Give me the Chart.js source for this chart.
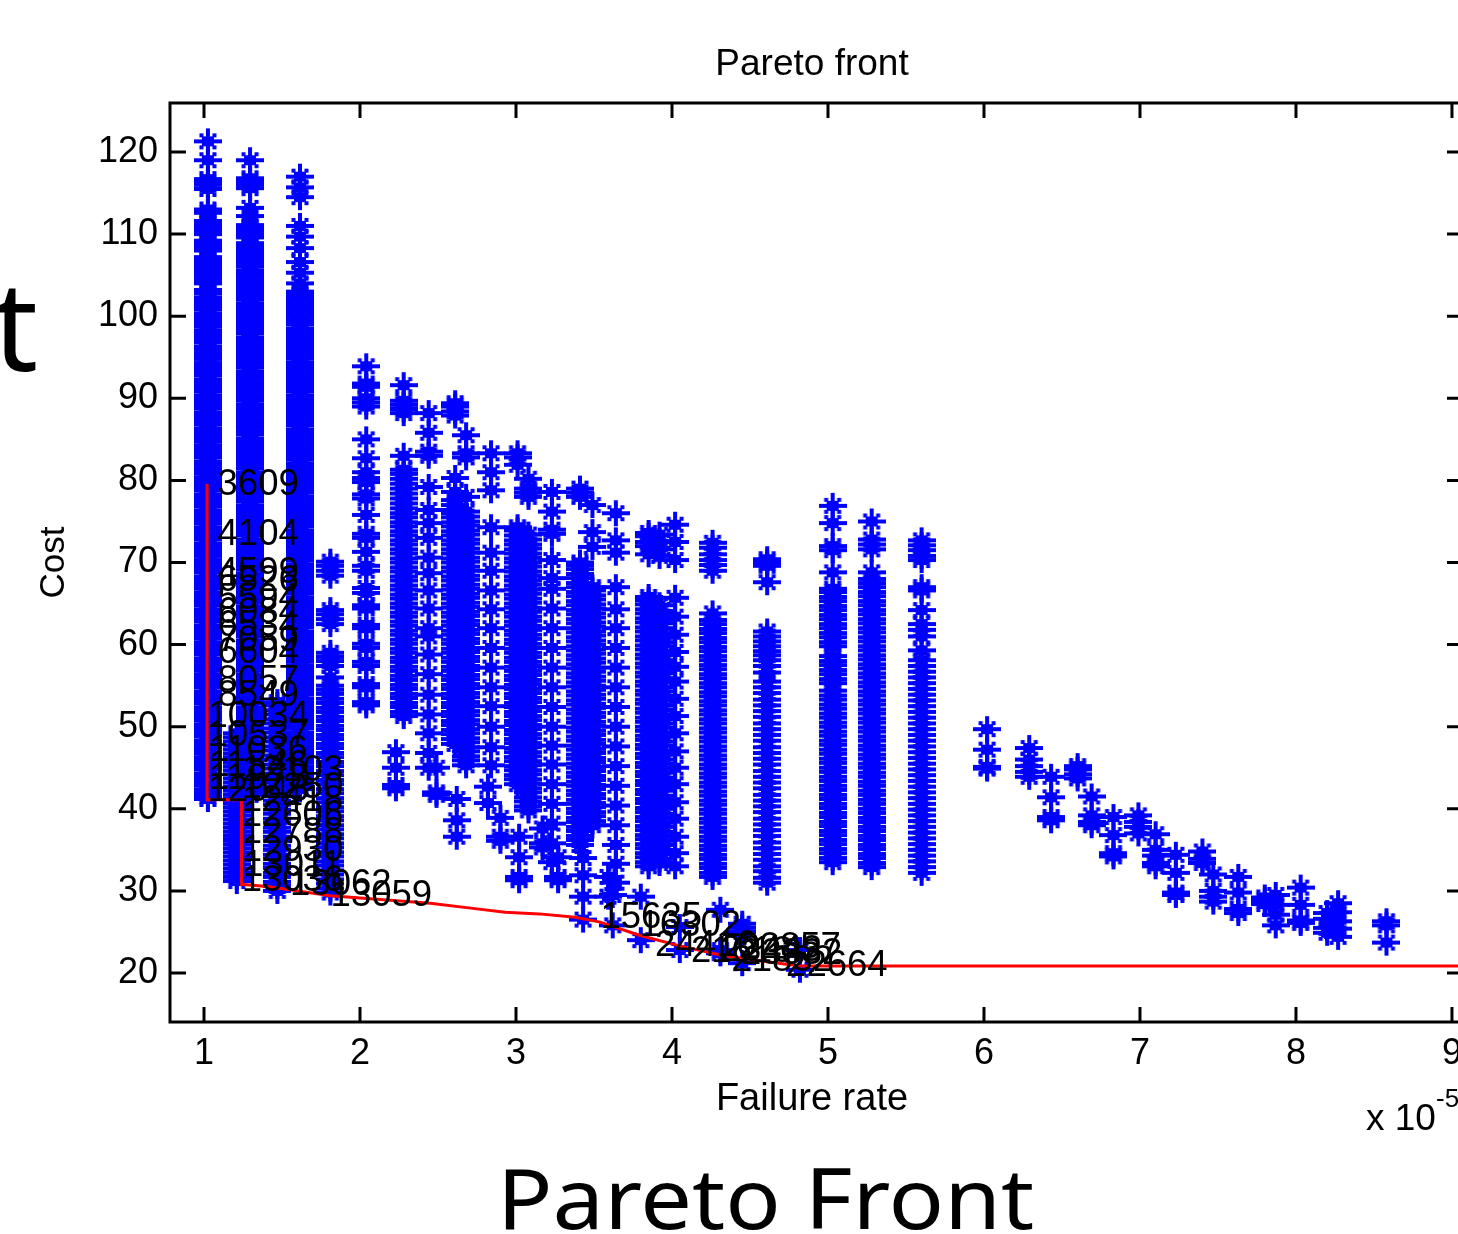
<!DOCTYPE html>
<html>
<head>
<meta charset="utf-8">
<title>Pareto front</title>
<script src="https://cdn.jsdelivr.net/npm/chart.js@4"></script>
<style>
  html, body { margin: 0; background: #fff; overflow: hidden; }
  #page { position: relative; width: 1458px; height: 1234px; overflow: hidden; }
  #myChart { position: absolute; left: 0; top: 0; }
  .slideText { position: absolute; font-family: "Noto Sans", sans-serif; color: #000; line-height: 1; white-space: nowrap; transform-origin: left top; }
</style>
</head>
<body>
<div id="page">
  <canvas id="myChart" width="1458" height="1234"></canvas>
  <div class="slideText" style="left:-7px;top:260px;font-size:125px">t</div>
  <div class="slideText" style="left:497px;top:1155px;font-size:84px;transform:scaleX(1.094)">Pareto Front</div>
</div>
<script>
const xTicks = [1, 2, 3, 4, 5, 6, 7, 8, 9];
const yTicks = [20, 30, 40, 50, 60, 70, 80, 90, 100, 110, 120];

// failure rate of each vertical column of points (x 10^-5)
const failureRate = [1.025, 1.295, 1.615, 1.21, 1.47, 1.81, 2.04, 2.28, 2.44, 2.49, 2.23, 2.61, 2.68, 2.84, 2.82, 2.62, 2.9, 3.01, 3.08, 3.02, 3.23, 3.17, 3.27, 3.41, 3.49, 3.43, 3.64, 3.59, 3.62, 3.85, 3.92, 3.8, 4.02, 4.26, 4.05, 4.31, 4.61, 5.03, 5.28, 5.6, 6.02, 6.29, 6.43, 6.6, 6.69, 6.83, 6.99, 7.1, 7.23, 7.4, 7.47, 7.63, 7.8, 7.87, 8.03, 8.2, 8.27, 8.58, 4.45, 4.82];

const costs = [
  [41.2,41.5,41.9,42.3,42.8,43.1,43.5,43.9,44.3,44.8,45.1,45.5,45.9,46.3,46.8,47.1,47.5,47.9,48.3,48.8,49.1,49.5,49.9,50.3,50.8,51.1,51.5,51.9,52.3,52.8,53.1,53.5,53.9,54.3,54.8,55.1,55.5,55.9,56.3,56.8,57.1,57.5,57.9,58.3,58.8,59.1,59.5,59.9,60.3,60.8,61.1,61.5,61.9,62.3,62.8,63.1,63.5,63.9,64.3,64.8,65.1,65.5,65.9,66.3,66.8,67.1,67.5,67.9,68.3,68.8,69.1,69.5,69.9,70.3,70.8,71.1,71.5,71.9,72.3,72.8,73.1,73.5,73.9,74.3,74.8,75.1,75.5,75.9,76.3,76.8,77.1,77.5,77.9,78.3,78.8,79.1,79.5,79.9,80.3,80.8,81.1,81.5,81.9,82.3,82.8,83.1,83.5,83.9,84.3,84.8,85.1,85.5,85.9,86.3,86.8,87.1,87.5,87.9,88.3,88.8,89.1,89.5,89.9,90.3,90.8,91.1,91.5,91.9,92.3,92.8,93.1,93.5,93.9,94.3,94.8,95.1,95.5,95.9,96.3,96.8,97.1,97.5,97.9,98.3,98.8,99.1,99.5,99.9,100.3,100.8,101.1,101.5,101.9,102.3,102.8,103.2,104,104.4,104.8,105.2,105.6,106,106.4,106.8,107.2,108,108.4,108.8,109.2,110,110.4,110.8,111.2,111.6,112.6,113,115.5,116,116.3,116.7,119,121.3],
  [41.7,42.1,42.5,42.9,43.3,43.7,44.1,44.6,45,45.4,45.8,46.2,46.6,47,47.4,47.8,48.2,48.7,49.1,49.5,49.9,50.3,50.7,51.1,51.5,51.9,52.3,52.8,53.2,53.6,54,54.4,54.8,55.2,55.6,56,56.4,56.9,57.3,57.7,58.1,58.5,58.9,59.3,59.7,60.1,60.5,61,61.4,61.8,62.2,62.6,63,63.4,63.8,64.2,64.6,65.1,65.5,65.9,66.3,66.7,67.1,67.5,67.9,68.3,68.7,69.2,69.6,70,70.4,70.8,71.2,71.6,72,72.4,72.8,73.3,73.7,74.1,74.5,74.9,75.3,75.7,76.1,76.5,76.9,77.4,77.8,78.2,78.6,79,79.4,79.8,80.2,80.6,81,81.5,81.9,82.3,82.7,83.1,83.5,83.9,84.3,84.7,85.1,85.6,86,86.4,86.8,87.2,87.6,88,88.4,88.8,89.2,89.7,90.1,90.5,90.9,91.3,91.7,92.1,92.5,92.9,93.3,93.8,94.2,94.6,95,95.4,95.8,96.2,96.6,97,97.4,97.9,98.3,98.7,99.1,99.5,99.9,100.3,100.7,101.1,101.5,102,102.4,102.8,103.2,103.6,104,104.4,104.8,105.2,105.6,106.1,106.5,106.9,107.3,107.7,108.1,108.5,108.9,109.6,110,110.4,110.8,111.1,112.2,113.2,115.6,116,116.4,116.8,119],
  [42.4,42.8,43.2,43.6,44,44.4,44.8,45.2,45.7,46.1,46.5,46.9,47.3,47.7,48.1,48.5,48.9,49.3,49.8,50.2,50.6,51,51.4,51.8,52.2,52.6,53,53.4,53.9,54.3,54.7,55.1,55.5,55.9,56.3,56.7,57.1,57.5,58,58.4,58.8,59.2,59.6,60,60.4,60.8,61.2,61.6,62.1,62.5,62.9,63.3,63.7,64.1,64.5,64.9,65.3,65.7,66.2,66.6,67,67.4,67.8,68.2,68.6,69,69.4,69.8,70.3,70.7,71.1,71.5,71.9,72.3,72.7,73.1,73.5,73.9,74.4,74.8,75.2,75.6,76,76.4,76.8,77.2,77.6,78,78.5,78.9,79.3,79.7,80.1,80.5,80.9,81.3,81.7,82.1,82.6,83,83.4,83.8,84.2,84.6,85,85.4,85.8,86.2,86.7,87.1,87.5,87.9,88.3,88.7,89.1,89.5,89.9,90.3,90.8,91.2,91.6,92,92.4,92.8,93.2,93.6,94,94.4,94.9,95.3,95.7,96.1,96.5,96.9,97.3,97.7,98.1,98.5,99,99.4,99.8,100.2,100.6,101,101.4,101.8,102.2,102.6,103,104,105.3,106.6,108.3,109.7,111,114.5,115.7,117],
  [31.2,31.7,32.2,32.7,33.2,33.7,34.2,34.7,35.2,35.7,36.2,36.7,37.2,37.7,38.2,38.7,39.2,39.7,40.2,40.7,41.2,41.7,42.2,42.7,43.2,43.7,44.2,44.7,45.2,45.7,46.2,46.7,47.2,47.7,48.2,48.7,49.2],
  [30,30.6,31.1,31.7,32.2,32.8,33.3,33.9,34.4,35,35.5,36.1,36.6,37.2,37.7,38.3,38.8,39.4,39.9,40.5,41,41.6,42.1,42.7,43.2,43.8,44.3,44.9,45.4,46,46.5,47.1,47.6,48.2,48.7,49.3,49.8,50.4,50.9,51.5,52,52.6,53],
  [29.8,30.3,30.9,31.4,32,32.5,33.1,33.6,34.2,34.7,35.3,35.8,36.4,36.9,37.5,38,38.6,39.1,39.7,40.2,40.8,41.3,41.9,42.4,43,43.5,44.1,44.6,45.2,45.7,46.3,46.8,47.4,47.9,48.5,49,49.6,50.1,50.7,51.2,51.8,52.3,52.9,53.4,54,54.5,55,56,57.4,58,58.5,59,62.5,63.1,63.7,64.2,68.4,69,69.6,70.1],
  [52.6,53,54.8,55.2,57.4,57.9,59.6,60.1,62,62.4,64.4,64.8,66.3,66.9,69,69.6,71.3,73,73.5,75.8,77.8,78.3,79.8,80.3,81,82.7,85,89,89.5,90,91.4,91.8,93.9],
  [51.3,51.8,52.4,52.9,53.5,54,54.6,55.1,55.7,56.2,56.8,57.3,57.9,58.4,59,59.5,60.1,60.6,61.2,61.7,62.3,62.8,63.4,63.9,64.5,65,65.6,66.1,66.7,67.2,67.8,68.3,68.9,69.4,70,70.5,71.1,71.6,72.2,72.7,73.3,73.8,74.4,74.9,75.5,76,76.6,77.2,77.8,78.4,79,79.6,80.2,80.8,81.3,83,88.2,88.7,89.2,89.7,91.6],
  [45,46.8,49.2,51.5,53.9,56.4,58.8,61,62,64.4,66.6,68.7,70.6,73,74.8,76.4,79.2,83,83.5,85.8,88.2],
  [41.7,42,45],
  [42.5,42.9,45,46.9],
  [47.9,48.5,49.1,49.6,50.2,50.7,51.3,51.8,52.4,52.9,53.5,54,54.6,55.1,55.7,56.2,56.8,57.3,57.9,58.4,59,59.5,60.1,60.6,61.2,61.7,62.3,62.8,63.4,63.9,64.5,65,65.6,66.1,66.7,67.2,67.8,68.3,68.9,69.4,70,70.5,71.1,71.6,72.2,72.7,73.3,73.8,74.4,74.9,75.5,76,76.4,77,77.6,78.6,80.3,87.9,88.4,89,89.4],
  [45.3,45.9,46.4,47,47.5,48.1,48.6,49.2,49.7,50.3,50.8,51.4,51.9,52.5,53,53.6,54.1,54.7,55.2,55.8,56.3,56.9,57.4,58,58.5,59.1,59.6,60.2,60.7,61.3,61.8,62.4,62.9,63.5,64,64.6,65.1,65.7,66.2,66.8,67.3,67.9,68.4,69,69.5,70.1,70.6,71.2,71.7,72.3,72.8,73.4,73.9,74.5,75,75.6,76.2,78,82.8,83.3,85.5],
  [45.3,47.5,50,52.5,54.8,57.2,59.6,62,64.3,66.6,69,71.2,74.3,78.8,81,83.3],
  [40.7,42.7],
  [36.6,38.6,41.2],
  [36.1,36.6,38.9],
  [43,43.6,44.1,44.7,45.2,45.8,46.3,46.9,47.4,48,48.5,49.1,49.6,50.2,50.7,51.3,51.8,52.4,52.9,53.5,54,54.6,55.1,55.7,56.2,56.8,57.3,57.9,58.4,59,59.5,60.1,60.6,61.2,61.7,62.3,62.8,63.4,63.9,64.5,65,65.6,66.1,66.7,67.2,67.8,68.3,68.9,69.4,70,70.5,71.1,71.6,72.2,72.7,73.3,73.9,74.3,81.9,82.8,83.3],
  [39.8,40.3,40.9,41.4,42,42.5,43.1,43.6,44.2,44.7,45.3,45.8,46.4,46.9,47.5,48,48.6,49.1,49.7,50.2,50.8,51.3,51.9,52.4,53,53.5,54.1,54.6,55.2,55.7,56.3,56.8,57.4,57.9,58.5,59,59.6,60.1,60.7,61.2,61.8,62.3,62.9,63.4,64,64.5,65.1,65.6,66.2,66.7,67.3,67.8,68.4,68.9,69.5,70,70.6,71.1,71.7,72.2,72.8,73.4,78,78.5,79,80.2],
  [31.3,31.7,34.1,36.6],
  [33.5,35.8,38.2,40.6,43,45.4,47.7,50,52.4,54.8,57.2,59.6,62,64.4,66.8,68.1,70.3,73.5,74,76.2,78.6],
  [35.3,35.8,37.6],
  [31.3,31.7,34.1],
  [35.6,36.2,36.7,37.3,37.8,38.4,38.9,39.5,40,40.6,41.1,41.7,42.2,42.8,43.3,43.9,44.4,45,45.5,46.1,46.6,47.2,47.7,48.3,48.8,49.4,49.9,50.5,51,51.6,52.1,52.7,53.2,53.8,54.3,54.9,55.4,56,56.5,57.1,57.6,58.2,58.7,59.3,59.8,60.4,60.9,61.5,62,62.6,63.1,63.7,64.2,64.8,65.3,65.9,66.4,67,67.5,68.1,68.6,69.2,69.7,70,78,78.5,79],
  [38,38.5,39.1,39.6,40.2,40.7,41.3,41.8,42.4,42.9,43.5,44,44.6,45.1,45.7,46.2,46.8,47.3,47.9,48.4,49,49.5,50.1,50.6,51.2,51.7,52.3,52.8,53.4,53.9,54.5,55,55.6,56.1,56.7,57.2,57.8,58.3,58.9,59.4,60,60.5,61.1,61.6,62.2,62.7,63.3,63.8,64.4,64.9,65.5,66,66.6,67,71.9,73.7,77],
  [26.5,29.3,31.9,34],
  [31,33.3,35.6,38,40.4,42.8,45.2,47.6,50,52.4,54.8,57.2,59.6,62,64.3,67,71.2,72.7,76],
  [29.3,31.7],
  [25.8,29.5],
  [33,33.5,34.1,34.6,35.2,35.7,36.3,36.8,37.4,37.9,38.5,39,39.6,40.1,40.7,41.2,41.8,42.3,42.9,43.4,44,44.5,45.1,45.6,46.2,46.7,47.3,47.8,48.4,48.9,49.5,50,50.6,51.1,51.7,52.2,52.8,53.3,53.9,54.4,55,55.5,56.1,56.6,57.2,57.7,58.3,58.8,59.4,59.9,60.5,61,61.6,62.1,62.7,63.2,63.8,64.3,64.9,65.4,65.8,71,72,72.5,73.2,73.6],
  [33.4,33.9,34.5,35,35.6,36.1,36.7,37.2,37.8,38.3,38.9,39.4,40,40.5,41.1,41.6,42.2,42.7,43.3,43.8,44.4,44.9,45.5,46,46.6,47.1,47.7,48.2,48.8,49.3,49.9,50.4,51,51.5,52.1,52.6,53.2,53.7,54.3,54.8,55.4,55.9,56.5,57,57.6,58.1,58.7,59.2,59.8,60.3,60.9,61.4,62,62.6,63.1,63.6,64.1,64.8,70.8,71.6,72.6,73.4],
  [24,29.3],
  [33,34.6,36.6,38.8,40.8,43,45,47,49.2,51.3,53.4,55.5,57.3,59.1,61.2,63.4,65.7,70.3,72.5,74.6],
  [31.7,32.2,32.8,33.3,33.9,34.4,35,35.5,36.1,36.6,37.2,37.7,38.3,38.8,39.4,39.9,40.5,41,41.6,42.1,42.7,43.2,43.8,44.3,44.9,45.4,46,46.5,47.1,47.6,48.2,48.7,49.3,49.8,50.4,50.9,51.5,52,52.6,53.1,53.7,54.2,54.8,55.3,55.9,56.4,57,57.5,58.1,58.6,59.2,59.7,60.3,60.8,61.4,61.9,62.5,63,63.8,69,69.7,70.3,71,71.8,72.4],
  [25.6,22.8],
  [22.4,27.7,22.8],
  [31,31.6,32.4,33,33.8,34.5,35.2,35.9,36.7,37.4,38.1,38.8,39.6,40.3,41,41.7,42.5,43.2,43.9,44.6,45.4,46.1,46.8,47.5,48.3,49,49.7,50.4,51.2,51.9,52.6,53.3,54.1,54.8,55.5,56.6,57.4,58.1,58.7,59.2,59.8,60.4,61,61.6,67.6,69.6,70,70.4],
  [33.5,34,34.6,35.1,35.7,36.2,36.8,37.3,37.9,38.4,39,39.5,40.1,40.6,41.2,41.7,42.3,42.8,43.4,43.9,44.5,45,45.6,46.1,46.7,47.2,47.8,48.3,48.9,49.4,50,50.5,51.1,51.6,52.2,52.7,53.3,53.8,54.4,55.3,55.8,56.4,56.9,57.5,58,58.6,59.8,60.3,60.9,61.4,62,62.5,63.1,63.6,64.2,64.7,65.3,65.8,66.4,66.8,68.8,71.5,72,74.8,76.9],
  [32.9,33.4,34,34.5,35.1,35.6,36.2,36.7,37.3,37.8,38.4,38.9,39.5,40,40.6,41.1,41.7,42.2,42.8,43.3,43.9,44.4,45,45.5,46.1,46.6,47.2,47.7,48.3,48.8,49.4,49.9,50.5,51,51.6,52.1,52.7,53.2,53.8,54.3,54.9,55.4,56,56.5,57.1,57.6,58.2,58.7,59.3,59.8,60.4,60.9,61.5,62,62.6,63.1,63.7,64.2,64.8,65.3,65.9,66.4,67,67.5,68,68.8,71.6,72.2,72.8,75],
  [32.2,32.9,33.6,34.3,35,35.7,36.4,37.1,37.8,38.5,39.2,39.9,40.6,41.3,42,42.7,43.4,44.1,44.8,45.5,46.2,46.9,47.6,48.3,49,49.7,50.4,51.1,51.8,52.5,53.2,53.9,54.6,55.3,56,56.7,57.4,58.1,59.3,61,61.8,62.5,64.2,66.6,67,70.3,70.8,71.5,72.1,72.7],
  [44.9,45.1,47.2,49.7],
  [43.9,44.5,45.2,46,47.4],
  [38.6,39,41.4,43.9],
  [43.7,44.2,44.8,45.2],
  [38,38.4,39.2,41.5],
  [34.2,34.6,36.8,39],
  [37,37.8,38.4,39.2],
  [33,33.4,34.3,35,36.9],
  [29.5,29.8,32.2,34.4],
  [33.4,33.9,34.8],
  [28.7,29.3,30,32],
  [27.3,27.8,29.8,31.7],
  [28.4,28.8,29.2],
  [25.8,27.1,28.3,29.5],
  [26.1,26.4,28.3,30.4],
  [24.9,25.5,26.6,27.3],
  [24.4,25.4,26.3,27.4,28.5],
  [23.7,25.8,26.3],
  [21.2,25,25.5,26],
  [20.4,22.8]
];

// red front, from the low failure rate end to the high one
const frontX = [1.02, 1.02, 1.24, 1.24, 1.42, 1.81, 2.45, 2.71, 2.93, 3.15, 3.38, 3.54, 3.79, 4.05, 4.31, 4.56, 4.82, 9.1];
const frontY = [79.6, 41.1, 41.1, 30.8, 30.5, 29.4, 28.5, 27.9, 27.4, 27.2, 26.8, 26.2, 24.6, 23.3, 22.2, 21.5, 20.85, 20.85];

// index labels next to the front
const labelText = ['3609','4104','4599','6526','5594','6084','6534','7059','6604','8057','8549','10034','10537','11036','11546','11973','12045','12103','12250','12418','12606','12788','12930','13011','13036','13062','13059','15635','16302','24416','21618','23443','21832','23332','22857','22664'];
const labelX = [1.02,1.02,1.02,1.02,1.02,1.02,1.02,1.02,1.02,1.02,1.02,1.02,1.02,1.02,1.02,1.02,1.02,1.24,1.24,1.24,1.24,1.24,1.24,1.24,1.24,1.55,1.81,3.54,3.79,3.89,4.12,4.31,4.38,4.44,4.43,4.73];
const labelY = [79.6,73.5,68.8,67.9,65.7,64,62.4,60.6,59.1,55.7,53.9,51.3,49,47.2,45.3,43.8,42.3,44.7,42.7,41.1,39.2,37.2,35,33.2,31.3,30.8,29.5,26.8,25.8,23.4,22.7,22.8,21.6,22.4,23.2,21];

Chart.defaults.font.family = "'Liberation Sans', Arial, sans-serif";
Chart.defaults.color = '#000';

// asterisk marker, drawn once and reused for every point
function makeMarker() {
  const c = document.createElement('canvas');
  c.width = 28;
  c.height = 28;
  const g = c.getContext('2d');
  g.fillStyle = '#0000ff';
  g.fillRect(0, 12, 28, 4);
  g.fillRect(12, 1, 4, 26);
  g.fillRect(8, 9, 12, 10);
  [7.5, 20.5].forEach(function (dx) {
    [8, 20].forEach(function (dy) {
      g.fillRect(dx - 2, dy - 2, 4, 4);
    });
  });
  return c;
}

const points = failureRate.flatMap(function (x, i) {
  return costs[i].map(function (y) { return { x: x, y: y }; });
});
const frontPoints = frontX.map(function (x, i) { return { x: x, y: frontY[i] }; });

const axesFrame = {
  id: 'axesFrame',
  afterDatasetsDraw(chart) {
    const { ctx, chartArea: a, scales, width } = chart;
    ctx.save();

    // text labels on top of the markers
    ctx.fillStyle = '#000';
    ctx.font = "36.5px 'Liberation Sans'";
    ctx.textAlign = 'center';
    ctx.textBaseline = 'middle';
    labelText.forEach(function (t, i) {
      ctx.fillText(t, scales.x.getPixelForValue(labelX[i]) + 51, scales.y.getPixelForValue(labelY[i]) + 1);
    });

    // box runs off the right edge of the picture, inward ticks on all sides
    ctx.strokeStyle = '#000';
    ctx.lineWidth = 3;
    ctx.beginPath();
    ctx.moveTo(width, a.top);
    ctx.lineTo(a.left, a.top);
    ctx.lineTo(a.left, a.bottom);
    ctx.lineTo(width, a.bottom);
    xTicks.forEach(function (v) {
      const px = scales.x.getPixelForValue(v);
      ctx.moveTo(px, a.bottom);
      ctx.lineTo(px, a.bottom - 15);
      ctx.moveTo(px, a.top);
      ctx.lineTo(px, a.top + 15);
    });
    yTicks.forEach(function (v) {
      const py = scales.y.getPixelForValue(v);
      ctx.moveTo(a.left, py);
      ctx.lineTo(a.left + 16, py);
      ctx.moveTo(width, py);
      ctx.lineTo(width - 11, py);
    });
    ctx.stroke();

    // axis multiplier
    ctx.textAlign = 'left';
    ctx.textBaseline = 'alphabetic';
    ctx.font = "37px 'Liberation Sans'";
    ctx.fillText('x 10', 1366, 1130);
    ctx.font = "26px 'Liberation Sans'";
    ctx.fillText('-5', 1436, 1107);
    ctx.restore();
  }
};

const myChart = new Chart(document.getElementById('myChart').getContext('2d'), {
  type: 'scatter',
  data: {
    datasets: [
      {
        label: 'Front',
        type: 'line',
        data: frontPoints,
        borderColor: '#ff0000',
        borderWidth: 3,
        pointRadius: 0,
        tension: 0,
        clip: false,
        order: 1,
      },
      {
        label: 'Designs',
        data: points,
        pointStyle: makeMarker(),
        pointRadius: 14,
        pointBackgroundColor: '#0000ff',
        pointBorderColor: '#0000ff',
        order: 2,
      }
    ]
  },
  options: {
    responsive: false,
    animation: false,
    events: [],
    layout: { autoPadding: false, padding: { right: 4 } },
    plugins: {
      legend: { display: false },
      tooltip: { enabled: false },
      title: {
        display: true,
        text: 'Pareto front',
        color: '#000',
        fullSize: false,
        font: { size: 37, weight: 'normal' },
        padding: { top: 43, bottom: 15.6 },
      }
    },
    scales: {
      x: {
        type: 'linear',
        min: 0.782,
        max: 9.013,
        afterFit(scale) {
          scale.height = 212;
          scale.paddingRight = 0;
        },
        border: { display: false },
        grid: { display: false, drawTicks: false },
        ticks: {
          stepSize: 1,
          includeBounds: false,
          padding: 10,
          maxRotation: 0,
          font: { size: 36 },
          color: '#000',
        },
        title: {
          display: true,
          text: 'Failure rate',
          color: '#000',
          font: { size: 38 },
          padding: { top: 0, bottom: 112 },
        }
      },
      y: {
        type: 'linear',
        min: 14.03,
        max: 125.97,
        afterFit(scale) { scale.width = 170; },
        border: { display: false },
        grid: { display: false, drawTicks: false },
        ticks: {
          stepSize: 10,
          includeBounds: false,
          padding: 12,
          font: { size: 36 },
          color: '#000',
        },
        title: {
          display: true,
          text: 'Cost',
          color: '#000',
          font: { size: 35 },
          padding: { top: 33, bottom: 0 },
        }
      }
    }
  },
  plugins: [axesFrame]
});
</script>
</body>
</html>
